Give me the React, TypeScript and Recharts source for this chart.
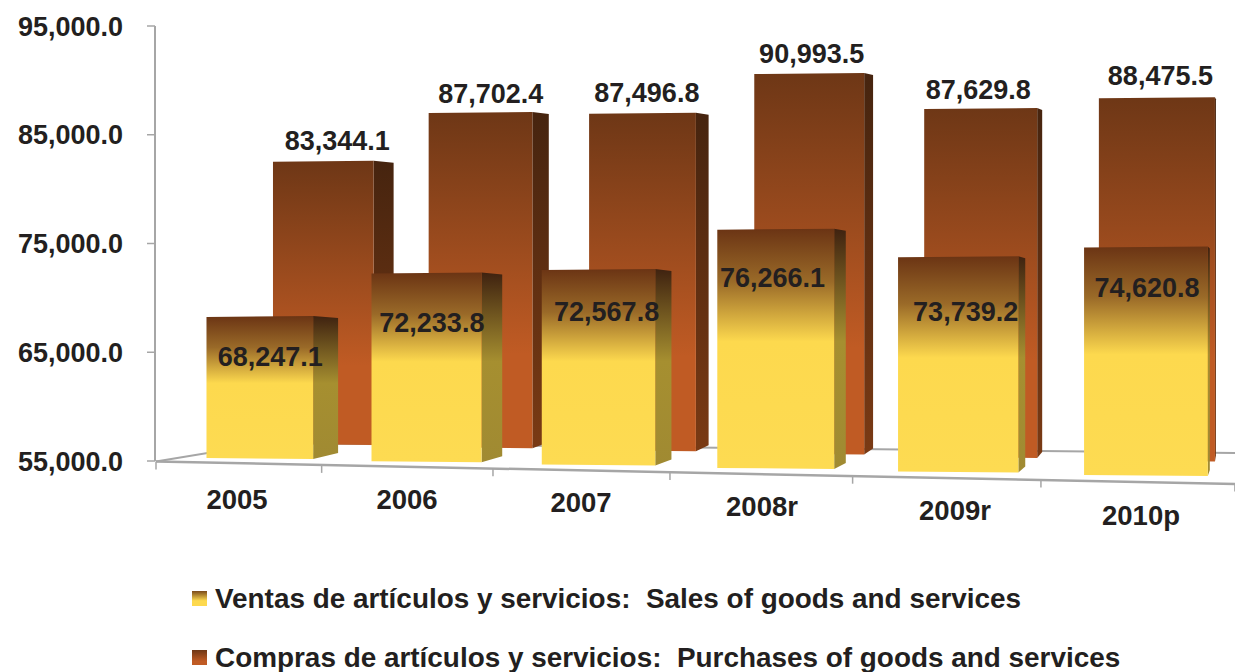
import React from "react";
import { Bar, BarChart, LabelList, Legend, XAxis, YAxis } from "recharts";

const YEARS = ["2005", "2006", "2007", "2008r", "2009r", "2010p"];
const SALES = [68247.1, 72233.8, 72567.8, 76266.1, 73739.2, 74620.8];
const PURCHASES = [83344.1, 87702.4, 87496.8, 90993.5, 87629.8, 88475.5];
const Y_TICKS = [55000, 65000, 75000, 85000, 95000];
const SALES_NAME = "Ventas de artículos y servicios:  Sales of goods and services";
const PURCHASES_NAME = "Compras de artículos y servicios:  Purchases of goods and services";

const chartData = YEARS.map((year, i) => ({
  year,
  sales: SALES[i],
  purchases: PURCHASES[i],
}));

const FONT = "'Liberation Sans', Arial, sans-serif";
const INK = "#231f20";
const AXIS = "#a6a6a6";
const PLOT_LEFT = 155;
const BAR_SIZE = 117;

// the original is a 3D perspective chart, so flat band positions get bent here
const warpSales = (x: number) => {
  const u = x - PLOT_LEFT;
  return 177.7 + 0.897 * u + 8.1e-5 * u * u;
};
const warpPurchases = (x: number) => {
  const u = x - PLOT_LEFT;
  return 245.8 + 0.847 * u + 7.33e-5 * u * u;
};
const warpFloor = (u: number) => 156 + 0.9046 * u + 8.74e-5 * u * u;
const floorY = (x: number) => 461.5 + 0.0204 * (x - 156);

const salesBase = (x: number) => 458 + 0.0194 * (x - 206);
const purchasesBase = (x: number) => 446 + 0.0198 * (x - 370);
const salesDepth = (x: number) => 25 - 0.0256 * (x - 311);
const purchasesDepth = (x: number) => 20 - 0.0226 * (x - 373);
const purchasesDrop = (x: number) => 9 - 0.0093 * (x - 273);

// hand placed labels in the original
const SALES_LABEL_NUDGE = [
  [-2, 40],
  [-5, 49],
  [0, 42],
  [-9, 48],
  [4, 54],
  [0, 40],
];
const PURCHASES_LABEL_NUDGE = [
  [4, -12],
  [2, -12],
  [-2, -15],
  [-2, -16],
  [-5, -17],
  [3, -21],
];
const X_LABEL_NUDGE = [-8, -18, -24, -23, -10, -4];
const X_LABEL_DROP = [0, -2.5, -3, -2.5, -2, -1];

const fmt = (v: number) =>
  v.toLocaleString("en-US", { minimumFractionDigits: 1, maximumFractionDigits: 1 });

const Box = ({ left, right, depth, top, base, front, side }: any) => (
  <g>
    <polygon
      points={`${right},${top - 1} ${right + depth},${top + 1} ${right + depth},${base - 5} ${right},${base + 1}`}
      fill={`url(#${side})`}
    />
    <polygon
      points={`${left},${top} ${right},${top - 1} ${right},${base + 1} ${left},${base}`}
      fill={`url(#${front})`}
    />
  </g>
);

const SalesShape = (props: any) => {
  const left = warpSales(props.x);
  const right = warpSales(props.x + props.width);
  return (
    <Box
      left={left}
      right={right}
      depth={salesDepth(right)}
      top={props.y}
      base={salesBase(left)}
      front="salesFront"
      side="salesSide"
    />
  );
};

const PurchasesShape = (props: any) => {
  const left = warpPurchases(props.x);
  const right = warpPurchases(props.x + props.width);
  return (
    <Box
      left={left}
      right={right}
      depth={purchasesDepth(right)}
      top={props.y + purchasesDrop(left)}
      base={purchasesBase(left)}
      front="purchasesFront"
      side="purchasesSide"
    />
  );
};

const barLabel = (warp: any, depth: any, nudge: number[][]) => (props: any) => {
  const box = props.viewBox ?? props;
  const left = warp(box.x);
  const right = warp(box.x + box.width);
  const [dx, dy] = nudge[props.index];
  return (
    <text
      x={(left + right + depth(right)) / 2 + dx}
      y={box.y + dy}
      textAnchor="middle"
      dy="0.35em"
      fontFamily={FONT}
      fontSize={27}
      fontWeight={700}
      fill={INK}
    >
      {fmt(Number(props.value))}
    </text>
  );
};

const YearTick = ({ x, payload, index }: any) => {
  const cx = x + X_LABEL_NUDGE[index];
  return (
    <text
      x={cx}
      y={499 + 0.0193 * (cx - 237) + X_LABEL_DROP[index]}
      textAnchor="middle"
      dy="0.35em"
      fontFamily={FONT}
      fontSize={27.5}
      fontWeight={700}
      fill={INK}
    >
      {payload.value}
    </text>
  );
};

const Floor = () => {
  const bands = [...YEARS.map((_, i) => i * 180), 1080];
  return (
    <g stroke={AXIS} fill="none">
      <line x1={156} y1={461.5} x2={268} y2={443} strokeWidth={2} />
      <line x1={268} y1={443} x2={1235} y2={453} strokeWidth={2} />
      <line x1={156} y1={461.5} x2={1235} y2={484} strokeWidth={2.5} />
      {bands.map((u) => {
        const x = warpFloor(u);
        return <line key={u} x1={x} y1={floorY(x)} x2={x} y2={floorY(x) + 8} strokeWidth={1.5} />;
      })}
    </g>
  );
};

const Gradient = ({ id, stops }: { id: string; stops: [number, string][] }) => (
  <linearGradient id={id} x1="0" y1="0" x2="0" y2="1">
    {stops.map(([o, c]) => (
      <stop key={o} offset={o} stopColor={c} />
    ))}
  </linearGradient>
);

const LegendRow = ({ name, swatch }: { name: string; swatch: string }) => (
  <div style={{ display: "flex", alignItems: "center", height: 59, whiteSpace: "pre" }}>
    <div style={{ width: 15, height: 15, marginLeft: 192, marginRight: 8, background: swatch }} />
    <span style={{ fontFamily: FONT, fontSize: 27.9, fontWeight: 700, color: INK }}>{name}</span>
  </div>
);

const ChartLegend = () => (
  <div style={{ height: 103, paddingTop: 1 }}>
    <LegendRow name={SALES_NAME} swatch="linear-gradient(#7a4a1a, #fdd94e 65%)" />
    <LegendRow name={PURCHASES_NAME} swatch="linear-gradient(#6e3716, #c05b24 75%)" />
  </div>
);

export default function App() {
  return (
    <div style={{ position: "absolute", left: 0, top: 0 }}>
      <BarChart
        width={1235}
        height={672}
        data={chartData}
        margin={{ top: 26, right: 0, bottom: 0, left: 0 }}
        barSize={BAR_SIZE}
        barGap={-BAR_SIZE}
      >
        <defs>
          <Gradient
            id="salesFront"
            stops={[
              [0, "#6b3414"],
              [0.22, "#9a6a28"],
              [0.47, "#fdd94e"],
              [1, "#fddb52"],
            ]}
          />
          <Gradient
            id="salesSide"
            stops={[
              [0, "#3f2210"],
              [0.47, "#a68f30"],
              [1, "#a08a32"],
            ]}
          />
          <Gradient
            id="purchasesFront"
            stops={[
              [0, "#6e3716"],
              [0.72, "#c05b24"],
              [1, "#c05b24"],
            ]}
          />
          <Gradient
            id="purchasesSide"
            stops={[
              [0, "#46240f"],
              [1, "#7a3a14"],
            ]}
          />
        </defs>
        <Floor />
        <XAxis
          dataKey="year"
          height={107}
          axisLine={false}
          tickLine={false}
          tick={<YearTick />}
          interval={0}
        />
        <YAxis
          width={155}
          domain={[55000, 95000]}
          ticks={Y_TICKS}
          stroke={AXIS}
          tickLine={{ stroke: AXIS, strokeWidth: 1.5 }}
          axisLine={{ stroke: AXIS, strokeWidth: 2 }}
          tickSize={8}
          tickMargin={24}
          tickFormatter={fmt}
          tick={{ fontFamily: FONT, fontSize: 27, fontWeight: 700, fill: INK }}
        />
        <Bar dataKey="purchases" shape={PurchasesShape} isAnimationActive={false}>
          <LabelList
            dataKey="purchases"
            content={barLabel(warpPurchases, purchasesDepth, PURCHASES_LABEL_NUDGE)}
          />
        </Bar>
        <Bar dataKey="sales" shape={SalesShape} isAnimationActive={false}>
          <LabelList dataKey="sales" content={barLabel(warpSales, salesDepth, SALES_LABEL_NUDGE)} />
        </Bar>
        <Legend verticalAlign="bottom" content={<ChartLegend />} wrapperStyle={{ left: 0, width: 1235 }} />
      </BarChart>
    </div>
  );
}
